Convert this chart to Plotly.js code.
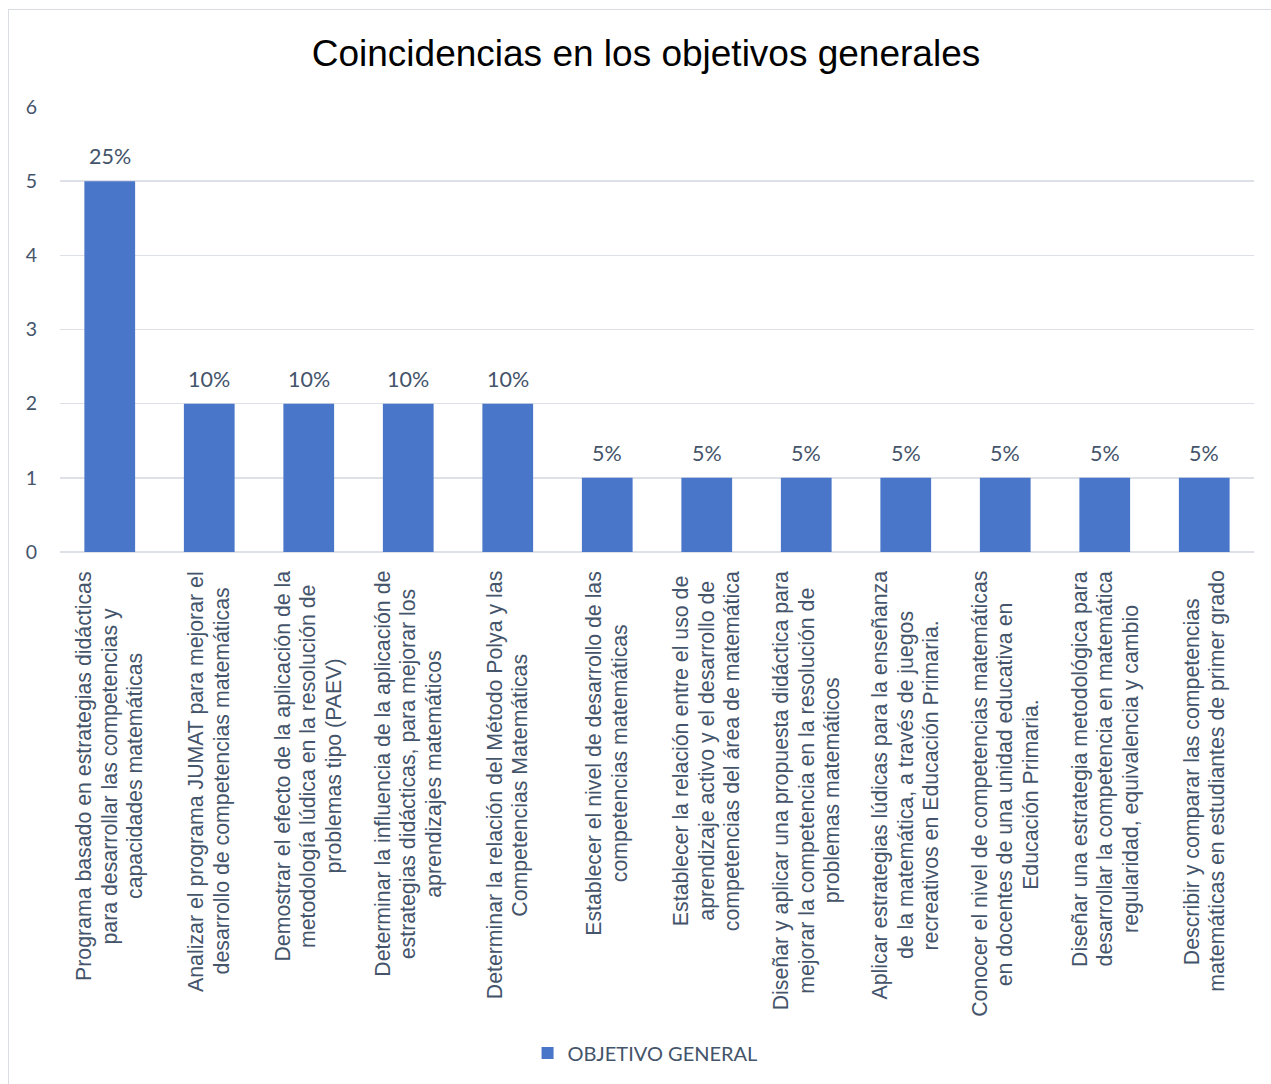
<!DOCTYPE html>
<html>
<head>
<meta charset="utf-8">
<script src="https://cdn.plot.ly/plotly-3.0.1.min.js"></script>
<style>
  html, body { margin: 0; padding: 0; background: #ffffff; overflow: hidden; }
  #frame { position: absolute; left: 8px; top: 9px; width: 1300px; height: 1100px; border: 1px solid #D9DDE3; background: #fff; }
  #chart { width: 1258px; height: 1072px; margin-left: 1px; }
</style>
</head>
<body>
<div id="frame"><div id="chart"></div></div>
<script>
const categories = [
  "Programa basado en estrategias didácticas<br>para desarrollar las competencias y<br>capacidades matemáticas",
  "Analizar el programa JUMAT para mejorar el<br>desarrollo de competencias matemáticas",
  "Demostrar el efecto de la aplicación de la<br>metodología lúdica en la resolución de<br>problemas tipo (PAEV)",
  "Determinar la influencia de la aplicación de<br>estrategias didácticas, para mejorar los<br>aprendizajes matemáticos",
  "Determinar la relación del Método Polya y las<br>Competencias Matemáticas",
  "Establecer el nivel de desarrollo de las<br>competencias matemáticas",
  "Establecer la relación entre el uso de<br>aprendizaje activo y el desarrollo de<br>competencias del área de matemática",
  "Diseñar y aplicar una propuesta didáctica para<br>mejorar la competencia en la resolución de<br>problemas matemáticos",
  "Aplicar estrategias lúdicas para la enseñanza<br>de la matemática, a través de juegos<br>recreativos en Educación Primaria.",
  "Conocer el nivel de competencias matemáticas<br>en docentes de una unidad educativa en<br>Educación Primaria.",
  "Diseñar una estrategia metodológica para<br>desarrollar la competencia en matemática<br>regularidad, equivalencia y cambio",
  "Describir y comparar las competencias<br>matemáticas en estudiantes de primer grado"
];
const values = [5, 2, 2, 2, 2, 1, 1, 1, 1, 1, 1, 1];
const percentLabels = ["25%", "10%", "10%", "10%", "10%", "5%", "5%", "5%", "5%", "5%", "5%", "5%"];
const seriesName = "OBJETIVO GENERAL";
const chartTitle = "Coincidencias en los objetivos generales";
const yTicks = [0, 1, 2, 3, 4, 5, 6];

const textColor = "#44546A";
const catFontSize = 21.3;
const catFontFamily = "'Liberation Sans', Arial, sans-serif";
const lineStep = 25.5;

// measure text widths to centre each rotated line on its label block
const ctx = document.createElement("canvas").getContext("2d");
ctx.font = catFontSize + "px " + catFontFamily;
function textW(s) { return ctx.measureText(s).width; }

const trace = {
  type: "bar",
  x: categories,
  y: values,
  name: seriesName,
  marker: { color: "#4A76C9" },
  showlegend: true,
  hoverinfo: "skip"
};

const annotations = [];
categories.forEach((c, i) => {
  annotations.push({
    x: c, y: values[i], xref: "x", yref: "y",
    text: percentLabels[i], showarrow: false,
    yanchor: "bottom", yshift: 10,
    font: { family: "Lato, 'Open Sans', sans-serif", size: 21.5, color: textColor }
  });
  const lines = c.split("<br>");
  const maxW = Math.max(...lines.map(textW));
  lines.forEach((ln, j) => {
    annotations.push({
      x: c, y: -(562 - 543) / 446, xref: "x", yref: "paper",
      text: ln, showarrow: false, textangle: -90,
      xanchor: "center", yanchor: "middle", align: "center",
      xshift: (j - (lines.length - 1) / 2) * lineStep,
      yshift: -maxW / 2,
      font: { family: catFontFamily, size: catFontSize, color: textColor }
    });
  });
});

const layout = {
  width: 1258, height: 1072,
  margin: { l: 50, r: 14, t: 97, b: 529 },
  paper_bgcolor: "#ffffff",
  plot_bgcolor: "#ffffff",
  title: {
    text: chartTitle,
    x: 0.5 - 11 / 1194, xref: "paper", xanchor: "center",
    y: 1 - 43 / 1072, yref: "container", yanchor: "middle",
    font: { family: "'Liberation Sans', Arial, sans-serif", size: 37, color: "#000000" }
  },
  bargap: 0.49,
  xaxis: {
    type: "category",
    showticklabels: false,
    showgrid: false,
    showline: false,
    zeroline: false,
    ticks: ""
  },
  yaxis: {
    range: [0, 6],
    tickvals: yTicks,
    ticktext: yTicks.map(String),
    showgrid: true,
    gridcolor: "#DDE1E7",
    gridwidth: 1.5,
    zeroline: true,
    zerolinecolor: "#DDE1E7",
    zerolinewidth: 1.5,
    showline: false,
    ticks: "",
    ticklabelstandoff: 22,
    tickfont: { family: "Lato, 'Open Sans', sans-serif", size: 19.5, color: textColor }
  },
  showlegend: true,
  legend: {
    orientation: "h",
    x: 0.49, xanchor: "center",
    y: -(1043 - 543) / 446, yanchor: "middle",
    font: { family: "Lato, 'Open Sans', sans-serif", size: 20, color: textColor },
    itemwidth: 30,
    bgcolor: "rgba(0,0,0,0)"
  },
  annotations: annotations
};

Plotly.newPlot("chart", [trace], layout, { displayModeBar: false, staticPlot: true });
</script>
</body>
</html>
